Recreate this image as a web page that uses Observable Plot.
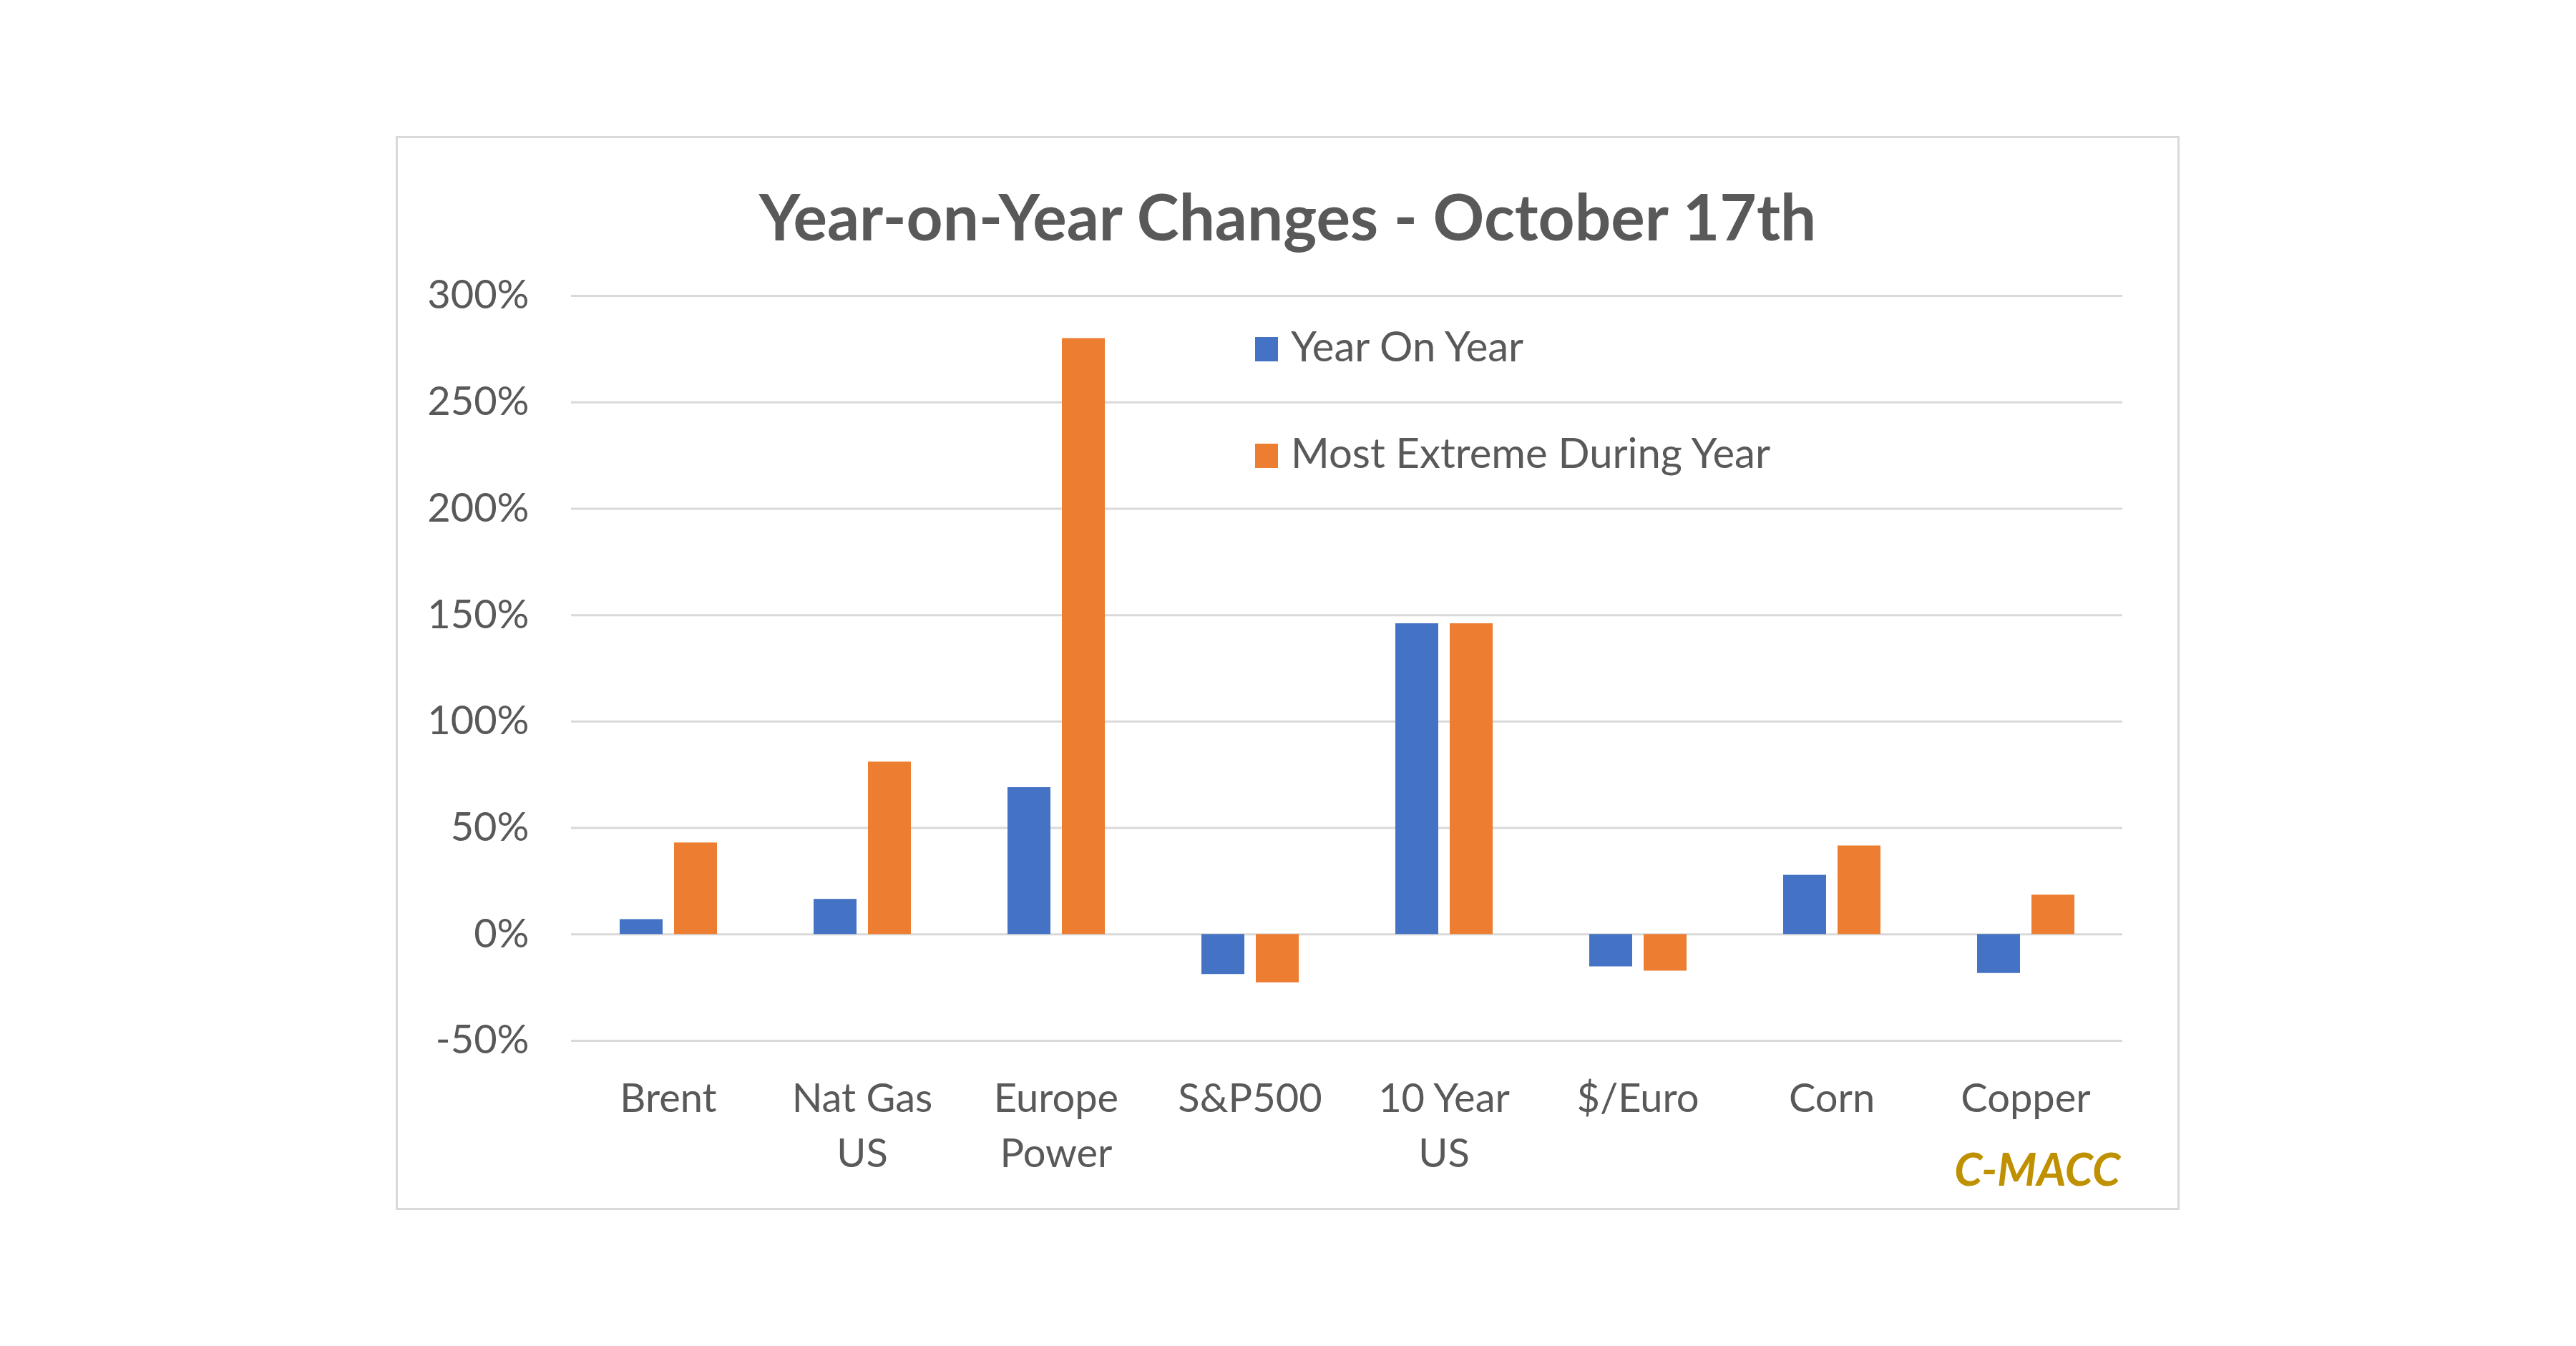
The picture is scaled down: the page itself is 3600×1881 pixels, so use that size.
<!DOCTYPE html>
<html>
<head>
<meta charset="utf-8">
<script src="https://cdn.jsdelivr.net/npm/d3@7"></script>
<script src="https://cdn.jsdelivr.net/npm/@observablehq/plot@0.6"></script>
<style>
html, body { margin: 0; padding: 0; background: #ffffff; }
body { width: 3600px; height: 1881px; position: relative; overflow: hidden; font-family: Lato, "Open Sans", sans-serif; color: #595959; }
#box { position: absolute; left: 553px; top: 190px; width: 2493px; height: 1501px; box-sizing: border-box; border: 3px solid #D9D9D9; }
#chart { position: absolute; left: 0; top: 0; }
#title { position: absolute; left: 553px; width: 2493px; top: 257px; text-align: center; font-size: 89px; line-height: 1; font-weight: 700; color: #595959; white-space: nowrap; }
.sw { position: absolute; width: 32px; height: 34px; }
.lt { position: absolute; font-size: 58px; line-height: 1; white-space: nowrap; color: #595959; }
#brand { position: absolute; right: 637px; top: 1601px; font-size: 63px; line-height: 1; font-weight: 700; font-style: italic; color: #BF9000; }
</style>
</head>
<body>
<div id="box"></div>
<div id="chart"></div>
<div id="title">Year-on-Year Changes - October 17th</div>
<div id="legend"></div>
<div id="brand">C-MACC</div>
<script>
const categories = ["Brent", "Nat Gas\nUS", "Europe\nPower", "S&P500", "10 Year\nUS", "$/Euro", "Corn", "Copper"];
const seriesNames = ["Year On Year", "Most Extreme During Year"];
const yearOnYear = [7, 16.5, 69, -18.8, 146, -15.2, 27.8, -18.3];
const mostExtreme = [43, 81, 280, -22.7, 146, -17.2, 41.6, 18.5];
const seriesColors = ["#4472C4", "#ED7D31"];
const yTicks = [-50, 0, 50, 100, 150, 200, 250, 300];

const data = categories.flatMap((c, i) => [
  {category: c, series: seriesNames[0], value: yearOnYear[i]},
  {category: c, series: seriesNames[1], value: mostExtreme[i]}
]);

const chart = Plot.plot({
  width: 3600,
  height: 1881,
  marginLeft: 795,
  marginRight: 631,
  marginTop: 413,
  marginBottom: 427,
  style: {fontFamily: "Lato, 'Open Sans', sans-serif", color: "#595959", background: "transparent", overflow: "visible"},
  fx: {domain: categories, padding: 0, label: null},
  x: {domain: seriesNames, paddingInner: 0.2167, paddingOuter: 0.882, axis: null},
  y: {domain: [-50, 300], label: null},
  color: {domain: seriesNames, range: seriesColors},
  marks: [
    Plot.gridY(yTicks, {stroke: "#D9D9D9", strokeOpacity: 1, strokeWidth: 3}),
    Plot.barY(data, {fx: "category", x: "series", y: "value", fill: "series"}),
    Plot.axisY(yTicks, {tickFormat: d => d + "%", tickSize: 0, tickPadding: 59, fontSize: 56, label: null}),
    Plot.axisFx({anchor: "bottom", tickSize: 0, tickPadding: 45, fontSize: 56, lineHeight: 1.375, label: null})
  ]
});
document.getElementById("chart").appendChild(chart);

const legend = document.getElementById("legend");
const legendTops = [471, 620];
const legendTextTops = [454, 603];
seriesNames.forEach((name, i) => {
  const sw = document.createElement("div");
  sw.className = "sw";
  sw.style.left = "1754px";
  sw.style.top = legendTops[i] + "px";
  sw.style.background = seriesColors[i];
  legend.appendChild(sw);
  const t = document.createElement("div");
  t.className = "lt";
  t.style.left = "1804px";
  t.style.top = legendTextTops[i] + "px";
  t.textContent = name;
  legend.appendChild(t);
});
</script>
</body>
</html>
